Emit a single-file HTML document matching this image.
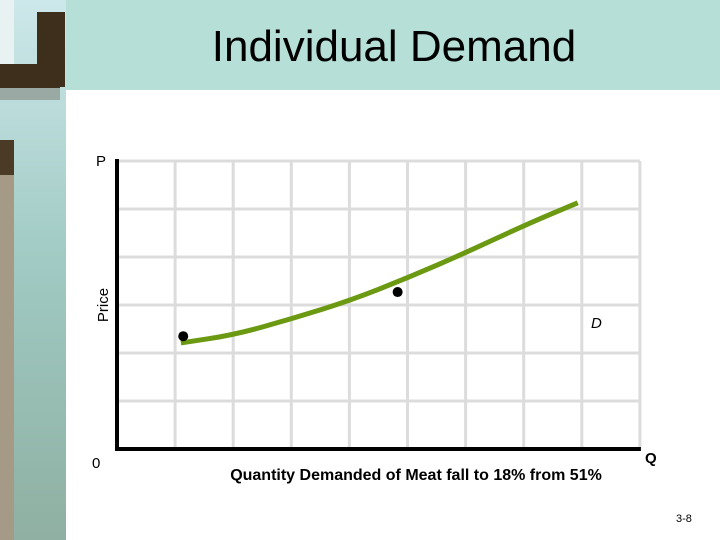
<!DOCTYPE html>
<html><head><meta charset="utf-8"><style>
body{margin:0;width:720px;height:540px;overflow:hidden;background:#fff;font-family:"Liberation Sans",sans-serif}
</style></head><body>
<svg width="720" height="540" style="position:absolute;left:0;top:0">
<defs><linearGradient id="lg" x1="0" y1="0" x2="0" y2="1"><stop offset="0" stop-color="#cde8ea"/><stop offset="0.5" stop-color="#9fc9c2"/><stop offset="1" stop-color="#8fb0a2"/></linearGradient></defs>
<g>
<rect x="0" y="0" width="66" height="540" fill="url(#lg)"/>
<rect x="0" y="0" width="14" height="65" fill="#e8f2f3"/>
<rect x="37" y="12" width="28" height="75" fill="#3e2e1c"/>
<rect x="0" y="64" width="60" height="24" fill="#3e2e1c"/>
<rect x="0" y="88" width="60" height="12" fill="#9aa9a4"/>
<rect x="0" y="140" width="14" height="35" fill="#4a3a26"/>
<rect x="0" y="175" width="14" height="365" fill="#a49a86"/>
</g>
<rect x="66" y="0" width="654" height="90" fill="#b6dfd8"/>
<text x="394" y="61" font-size="44" text-anchor="middle" fill="#000">Individual Demand</text>
<g id="grid"></g>
<g id="marks"></g>
<text x="96" y="166" font-size="15" fill="#000">P</text>
<text transform="translate(108,305) rotate(-90)" font-size="15" text-anchor="middle" fill="#000">Price</text>
<text x="92" y="468" font-size="15" fill="#000">0</text>
<text x="591" y="328" font-size="15" font-style="italic" fill="#000">D</text>
<text x="645" y="463" font-size="15" font-weight="bold" fill="#000">Q</text>
<text x="416" y="480" font-size="16" font-weight="bold" text-anchor="middle" fill="#000">Quantity Demanded  of Meat fall to 18% from 51%</text>
<text x="676" y="522" font-size="11" fill="#000">3-8</text>
</svg>
<script>
const xGridUnits=[1,2,3,4,5,6,7,8,9];
const yGridUnits=[1,2,3,4,5,6];
const curveX=[1.10,2.03,3.05,4.03,5.03,6.02,7.03,7.93];
const curveY=[2.21,2.38,2.73,3.10,3.58,4.10,4.67,5.13];
const dotX=[1.14,4.83];
const dotY=[2.35,3.27];
const NS="http://www.w3.org/2000/svg";
const sx=u=>117+u*58.1, sy=u=>449-u*48;
const grid=document.getElementById('grid'), marks=document.getElementById('marks');
function mk(tag,at,parent){const e=document.createElementNS(NS,tag);for(const k in at)e.setAttribute(k,at[k]);parent.appendChild(e);return e;}
xGridUnits.forEach(u=>{const l=mk('line',{x1:sx(u),x2:sx(u),y1:sy(6),y2:449,stroke:'#dcdcdc','stroke-width':3},grid);

});
yGridUnits.forEach(u=>{const l=mk('line',{x1:117,x2:sx(9),y1:sy(u),y2:sy(u),stroke:'#dcdcdc','stroke-width':3},grid);

});
const ya=mk('line',{x1:117,x2:117,y1:sy(6)-2,y2:451,stroke:'#000','stroke-width':4},marks);


const xa=mk('line',{x1:115,x2:sx(9)+1,y1:449,y2:449,stroke:'#000','stroke-width':4},marks);


let d='M'+sx(curveX[0])+' '+sy(curveY[0]);
for(let i=1;i<curveX.length;i++){const x0=sx(curveX[i-1]),y0=sy(curveY[i-1]),x1=sx(curveX[i]),y1=sy(curveY[i]);const mx=(x0+x1)/2;d+=' Q'+x0+' '+y0+' '+mx+' '+(y0+y1)/2;}
d+=' L'+sx(curveX[curveX.length-1])+' '+sy(curveY[curveY.length-1]);
const c=mk('path',{d:d,fill:'none',stroke:'#6b9a12','stroke-width':5},marks);


dotX.forEach((x,i)=>{const p=mk('circle',{cx:sx(x),cy:sy(dotY[i]),r:5,fill:'#000'},marks);

});
</script>
</body></html>
